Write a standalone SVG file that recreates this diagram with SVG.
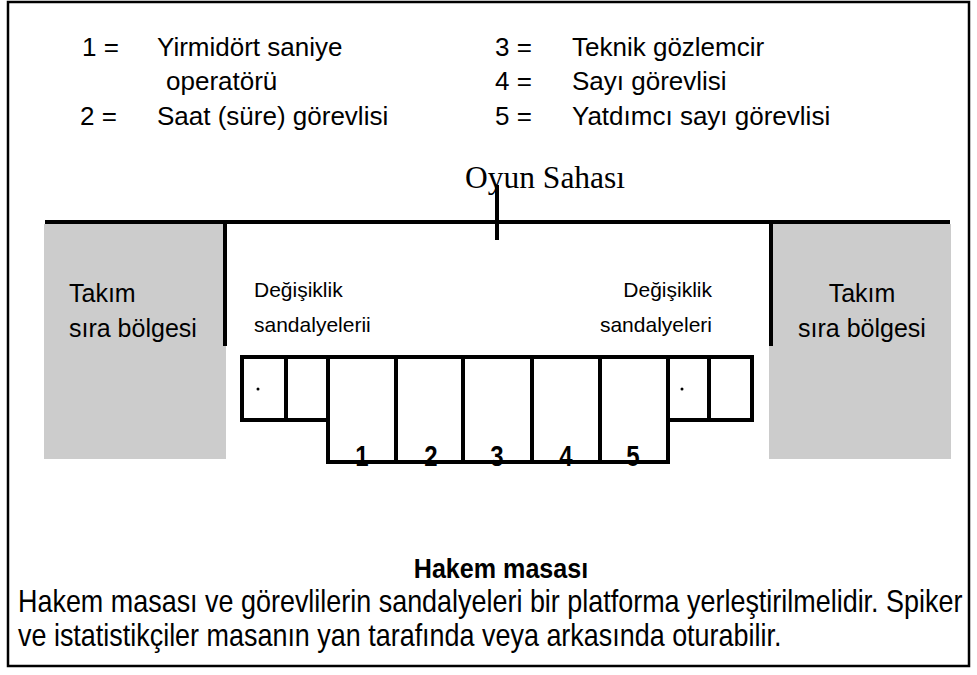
<svg xmlns="http://www.w3.org/2000/svg" width="977" height="675" viewBox="0 0 977 675">
<style>
.t{font-family:"Liberation Sans",Arial,sans-serif;fill:#000}
.l25{font-size:25px}
.l26{font-size:26px}
.l21{font-size:21px}
.num{font-size:24px;font-weight:bold;text-anchor:middle}
.ln{stroke:#000;stroke-width:4;fill:none}
.bench{fill:#cccccc}
</style>
<rect x="0" y="0" width="977" height="675" fill="#fff"/>
<rect id="frame" x="8" y="2" width="961" height="664" fill="none" stroke="#000" stroke-width="2.5"/>
<g id="legend" class="t l26">
<text x="82" y="56">1 =</text>
<text x="157" y="56">Yirmidört saniye</text>
<text x="166" y="90">operatörü</text>
<text x="80" y="125">2 =</text>
<text x="157" y="125">Saat (süre) görevlisi</text>
<text x="495" y="56">3 =</text>
<text x="572" y="56">Teknik gözlemcir</text>
<text x="495" y="90">4 =</text>
<text x="572" y="90">Sayı görevlisi</text>
<text x="495" y="125">5 =</text>
<text x="572" y="125">Yatdımcı sayı görevlisi</text>
</g>
<g id="bench-left">
<rect class="bench" x="44" y="224" width="182" height="235"/>
<text class="t l25" x="69" y="302">Takım</text>
<text class="t l25" x="69" y="337">sıra bölgesi</text>
</g>
<g id="bench-right">
<rect class="bench" x="769" y="224" width="182" height="235"/>
<text class="t l25" x="862" y="302" text-anchor="middle">Takım</text>
<text class="t l25" x="862" y="337" text-anchor="middle">sıra bölgesi</text>
</g>
<g id="field">
<text x="465" y="188" font-family="Liberation Serif,'Times New Roman',serif" font-size="31.5">Oyun Sahası</text>
<line class="ln" x1="45" y1="222" x2="950" y2="222"/>
<line class="ln" x1="225" y1="222" x2="225" y2="346"/>
<line class="ln" x1="771" y1="222" x2="771" y2="346"/>
<line class="ln" x1="497" y1="185" x2="497" y2="240" stroke-width="5"/>
</g>
<g id="subs-left" class="t l21">
<text x="254" y="297">Değişiklik</text>
<text x="254" y="332">sandalyelerii</text>
</g>
<g id="subs-right" class="t l21" text-anchor="end">
<text x="712" y="297">Değişiklik</text>
<text x="712" y="332">sandalyeleri</text>
</g>
<g id="table">
<path class="ln" d="M242,357 H752 V420 H668 V462 H328 V420 H242 Z"/>
<path class="ln" d="M286,357 V420 M328,357 V420 M396,357 V462 M463,357 V462 M532,357 V462 M600,357 V462 M668,357 V420 M709,357 V420"/>
<circle cx="258" cy="389" r="1.5"/>
<circle cx="682" cy="389" r="1.5"/>
<g class="t num">
<text transform="translate(362,466) scale(1,1.25)">1</text>
<text transform="translate(431,466) scale(1,1.25)">2</text>
<text transform="translate(497,466) scale(1,1.25)">3</text>
<text transform="translate(566,466) scale(1,1.25)">4</text>
<text transform="translate(633,466) scale(1,1.25)">5</text>
</g>
</g>
<g id="caption" class="t">
<text transform="translate(501,578) scale(0.93,1)" font-size="27" font-weight="bold" text-anchor="middle">Hakem masası</text>
<text transform="translate(18,612) scale(0.869,1)" font-size="31">Hakem masası ve görevlilerin sandalyeleri bir platforma yerleştirilmelidir. Spiker</text>
<text transform="translate(18,646) scale(0.869,1)" font-size="31">ve istatistikçiler masanın yan tarafında veya arkasında oturabilir.</text>
</g>
</svg>
